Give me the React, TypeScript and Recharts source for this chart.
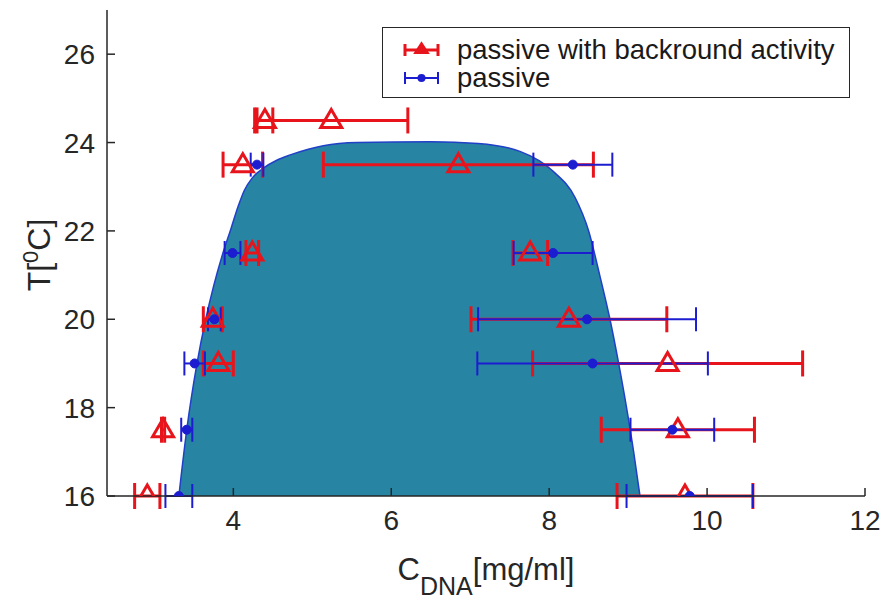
import React from 'react'
import { Area, ComposedChart, ErrorBar, Label, Legend, Scatter, XAxis, YAxis } from 'recharts'

// phase boundary (upper edge of the filled region)
const boundaryC = [3.31, 3.41, 3.54, 3.65, 3.75, 3.86, 3.97, 4.06, 4.14, 4.24, 4.38, 4.55, 4.72, 4.95, 5.14, 5.57, 6.5, 7.1, 7.63, 8.05, 8.33, 8.5, 8.64, 8.77, 8.88, 8.98, 9.07, 9.15]
const boundaryT = [16.0, 17.5, 19.0, 20.0, 20.75, 21.45, 22.05, 22.55, 22.92, 23.2, 23.42, 23.6, 23.72, 23.85, 23.93, 24.0, 24.02, 23.98, 23.8, 23.35, 22.75, 22.0, 21.0, 20.0, 19.0, 18.0, 17.0, 16.0]

// passive with backround activity
const activeT = [24.5, 24.5, 23.5, 23.5, 21.5, 21.5, 20, 20, 19, 19, 17.5, 17.5, 16, 16]
const activeC = [4.4, 5.24, 4.12, 6.85, 4.24, 7.76, 3.74, 8.25, 3.81, 9.5, 3.11, 9.63, 2.91, 9.72]
const activeErr = [0.1, 0.97, 0.25, 1.71, 0.08, 0.22, 0.12, 1.24, 0.19, 1.71, 0.02, 0.97, 0.16, 0.86]

// passive
const passiveT = [23.5, 23.5, 21.5, 21.5, 20, 20, 19, 19, 17.5, 17.5, 16, 16]
const passiveC = [4.3, 8.3, 3.99, 8.05, 3.76, 8.48, 3.51, 8.55, 3.41, 9.56, 3.31, 9.78]
const passiveErr = [0.08, 0.5, 0.1, 0.5, 0.08, 1.38, 0.13, 1.46, 0.07, 0.53, 0.17, 0.8]

const xTicks = [4, 6, 8, 10, 12]
const yTicks = [16, 18, 20, 22, 24, 26]
const seriesNames = ['passive with backround activity', 'passive']

const boundary = boundaryC.map((x, i) => ({ x, T: boundaryT[i] }))
const activeData = activeC.map((x, i) => ({ x, T: activeT[i], err: activeErr[i] }))
const passiveData = passiveC.map((x, i) => ({ x, T: passiveT[i], err: passiveErr[i] }))

const RED = '#e8141c'
const BLUE = '#1c1cd0'
const FILL = '#2784a2'
const AXIS = '#262626'
const FONT = '"Liberation Sans", Arial, sans-serif'

function BottomTick({ x, y, payload }: any) {
  return (
    <g>
      <line x1={x} y1={y} x2={x} y2={y - 8} stroke={AXIS} strokeWidth={1.5} />
      <text x={x} y={y + 34} textAnchor='middle' fontSize={28} fill={AXIS} fontFamily={FONT}>
        {payload.value}
      </text>
    </g>
  )
}

function LeftTick({ x, y, payload }: any) {
  return (
    <g>
      <line x1={x} y1={y} x2={x + 8} y2={y} stroke={AXIS} strokeWidth={1.5} />
      <text x={x - 12} y={y + 10} textAnchor='end' fontSize={28} fill={AXIS} fontFamily={FONT}>
        {payload.value}
      </text>
    </g>
  )
}

function TopTick({ x, y }: any) {
  return <line x1={x} y1={y} x2={x} y2={y + 8} stroke={AXIS} strokeWidth={1.5} />
}

function RightTick({ x, y }: any) {
  return <line x1={x} y1={y} x2={x - 8} y2={y} stroke={AXIS} strokeWidth={1.5} />
}

function Triangle({ cx, cy }: any) {
  if (cx == null || cy == null) return null
  return (
    <path
      d={`M${cx},${cy - 11} L${cx + 10.5},${cy + 7} L${cx - 10.5},${cy + 7} Z`}
      fill='none'
      stroke={RED}
      strokeWidth={3}
    />
  )
}

function Dot({ cx, cy }: any) {
  if (cx == null || cy == null) return null
  return <circle cx={cx} cy={cy} r={4.5} fill={BLUE} stroke={BLUE} />
}

function XLabel({ viewBox }: any) {
  const cx = viewBox.x + viewBox.width / 2
  return (
    <text x={cx} y={viewBox.y + 84} textAnchor='middle' fontSize={31} fill={AXIS} fontFamily={FONT}>
      <tspan>C</tspan>
      <tspan dy={15} fontSize={25}>DNA</tspan>
      <tspan dy={-15}>[mg/ml]</tspan>
    </text>
  )
}

function YLabel({ viewBox }: any) {
  const cy = viewBox.y + viewBox.height / 2 + 2
  const bx = 50
  return (
    <text
      x={bx}
      y={cy}
      transform={`rotate(-90, ${bx}, ${cy})`}
      textAnchor='middle'
      fontSize={32}
      fill={AXIS}
      fontFamily={FONT}
    >
      <tspan>T[</tspan>
      <tspan dy={-12} fontSize={22}>0</tspan>
      <tspan dy={12}>C]</tspan>
    </text>
  )
}

function LegendIcon({ index }: { index: number }) {
  const color = index === 0 ? RED : BLUE
  const w = index === 0 ? 3 : 2
  return (
    <svg width={74} height={28} style={{ display: 'block' }}>
      <line x1={22} y1={14} x2={55} y2={14} stroke={color} strokeWidth={w} />
      <line x1={22} y1={8} x2={22} y2={20} stroke={color} strokeWidth={w} />
      <line x1={55} y1={8} x2={55} y2={20} stroke={color} strokeWidth={w} />
      {index === 0 ? (
        <path d='M38.5,7 L45,17 L32,17 Z' fill={RED} stroke={RED} strokeWidth={2} />
      ) : (
        <circle cx={38.5} cy={14} r={4} fill={BLUE} />
      )}
    </svg>
  )
}

function LegendBox() {
  return (
    <div
      style={{
        boxSizing: 'border-box',
        width: 468,
        height: 71,
        border: '1.5px solid #262626',
        background: '#fff',
        paddingTop: 8,
        fontFamily: FONT,
        fontSize: 27.5,
        color: '#1a1a1a',
      }}
    >
      {seriesNames.map((name, i) => (
        <div key={name} style={{ display: 'flex', alignItems: 'center', height: 28, lineHeight: '28px' }}>
          <LegendIcon index={i} />
          <span style={{ whiteSpace: 'nowrap' }}>{name}</span>
        </div>
      ))}
    </div>
  )
}

export default function App() {
  return (
    <div style={{ position: 'absolute', left: 0, top: 0, width: 888, height: 599, background: '#fff' }}>
      <ComposedChart width={888} height={599} data={boundary} margin={{ top: 10, right: 23, left: 0, bottom: 0 }}>
        <XAxis
          type='number'
          dataKey='x'
          domain={[2.4, 12]}
          ticks={xTicks}
          allowDataOverflow
          height={103}
          tickSize={0}
          tickMargin={0}
          tick={<BottomTick />}
          axisLine={{ stroke: AXIS, strokeWidth: 1.5 }}
        >
          <Label content={<XLabel />} />
        </XAxis>
        <XAxis
          xAxisId='top'
          orientation='top'
          type='number'
          domain={[2.4, 12]}
          ticks={xTicks}
          allowDataOverflow
          height={0}
          tickSize={0}
          tickMargin={0}
          tick={<TopTick />}
          axisLine={{ stroke: AXIS, strokeWidth: 1.5 }}
        />
        <YAxis
          type='number'
          dataKey='T'
          domain={[16, 27]}
          ticks={yTicks}
          allowDataOverflow
          width={107}
          tickSize={0}
          tickMargin={0}
          tick={<LeftTick />}
          axisLine={{ stroke: AXIS, strokeWidth: 1.5 }}
        >
          <Label content={<YLabel />} />
        </YAxis>
        <YAxis
          yAxisId='right'
          orientation='right'
          type='number'
          domain={[16, 27]}
          ticks={yTicks}
          allowDataOverflow
          width={0}
          tickSize={0}
          tickMargin={0}
          tick={<RightTick />}
          axisLine={{ stroke: AXIS, strokeWidth: 1.5 }}
        />
        <Area
          type='monotone'
          dataKey='T'
          stroke='#2040c8'
          strokeWidth={1.5}
          fill={FILL}
          fillOpacity={1}
          dot={false}
          activeDot={false}
          isAnimationActive={false}
        />
        <Scatter name={seriesNames[0]} data={activeData} shape={<Triangle />} isAnimationActive={false}>
          <ErrorBar dataKey='err' direction='x' width={13} stroke={RED} strokeWidth={3} />
        </Scatter>
        <Scatter name={seriesNames[1]} data={passiveData} shape={<Dot />} isAnimationActive={false}>
          <ErrorBar dataKey='err' direction='x' width={12} stroke={BLUE} strokeWidth={2} />
        </Scatter>
        <Legend
          layout='horizontal'
          verticalAlign='middle'
          align='center'
          wrapperStyle={{ left: 382, top: 27, width: 468, height: 71 }}
          content={() => <LegendBox />}
        />
      </ComposedChart>
    </div>
  )
}
